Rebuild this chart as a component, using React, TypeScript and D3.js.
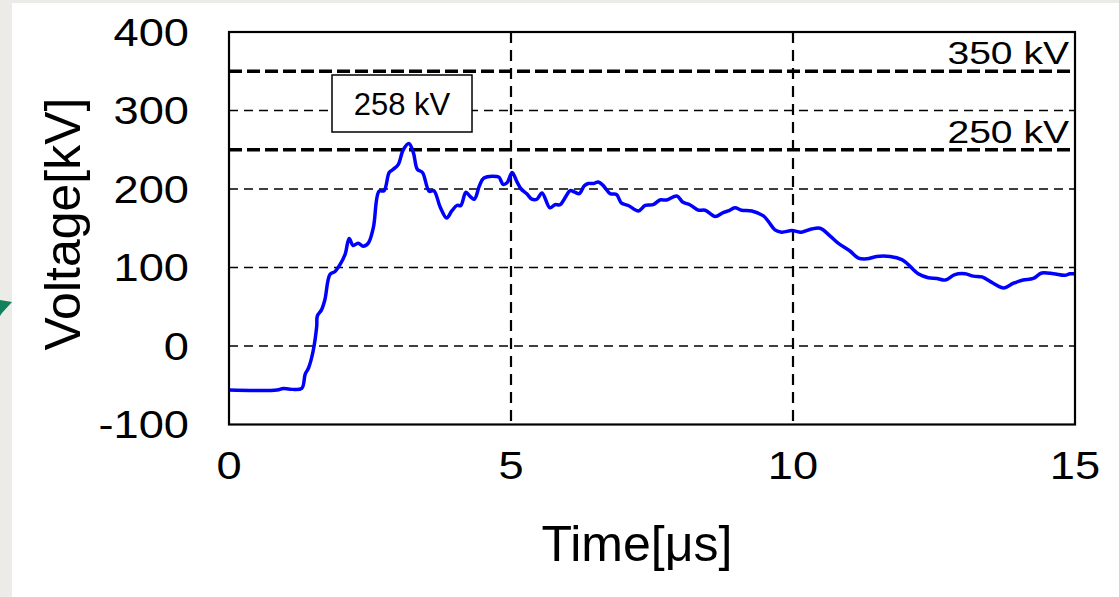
import React from 'react';
import { line, scaleLinear, curveCatmullRom } from 'd3';

// waveform samples: time [µs] and voltage [kV]
const timeUs = [
	0, 0.85, 0.96, 1.08, 1.29, 1.35, 1.41, 1.49, 1.555, 1.566, 1.64, 1.7, 1.79, 1.88, 1.97, 2.06, 2.13, 2.2, 2.29, 2.38,
	2.47, 2.56, 2.66, 2.75, 2.84, 2.91, 3.0, 3.09, 3.19, 3.27, 3.34, 3.43, 3.55, 3.63, 3.75, 3.86, 3.95, 4.04, 4.11, 4.2,
	4.27, 4.35, 4.44, 4.52, 4.75, 4.79, 4.86, 4.93, 5.02, 5.1, 5.18, 5.28, 5.37, 5.46, 5.55, 5.69, 5.78, 5.87, 5.96, 6.05,
	6.13, 6.21, 6.3, 6.37, 6.46, 6.55, 6.64, 6.76, 6.87, 6.96, 7.08, 7.26, 7.38, 7.52, 7.64, 7.76, 7.94, 8.05, 8.17, 8.32,
	8.44, 8.62, 8.76, 8.85, 8.97, 9.09, 9.27, 9.47, 9.56, 9.68, 9.8, 9.98, 10.15, 10.33, 10.48, 10.66, 10.8, 11.01, 11.16, 11.31,
	11.48, 11.72, 11.93, 12.04, 12.22, 12.4, 12.55, 12.7, 12.87, 13.05, 13.2, 13.35, 13.55, 13.74, 13.91, 14.08, 14.26, 14.41, 14.62, 14.82,
	14.91, 15.0
];
const voltageKv = [
	-56, -56, -54, -55, -54, -36, -28, -7, 25, 38, 46, 59, 91, 95, 104, 117, 137, 128, 131, 127,
	131, 151, 197, 198, 221, 225, 231, 250, 258, 246, 225, 221, 197, 198, 176, 163, 172, 179, 179, 196,
	191, 187, 204, 214, 216, 215, 206, 208, 221, 210, 200, 194, 187, 187, 195, 176, 180, 180, 189, 198,
	196, 194, 204, 207, 207, 209, 204, 194, 193, 182, 179, 172, 179, 180, 186, 186, 191, 183, 180, 173,
	173, 165, 170, 172, 176, 173, 172, 166, 159, 148, 145, 147, 145, 149, 150, 140, 131, 121, 112, 111,
	114, 114, 110, 104, 92, 87, 86, 84, 91, 92, 89, 88, 80, 74, 80, 84, 86, 93, 92, 90,
	92, 92
];

const xTicks = [0, 5, 10, 15];
const yTicks = [-100, 0, 100, 200, 300, 400];
const xGrid = [5, 10];
const yGrid = [0, 100, 200, 300];
const limitLines = [350, 250];
const limitLabels = ['350 kV', '250 kV'];
const peakLabel = '258 kV';

const W = 1119;
const H = 597;
const plot = { left: 229, right: 1075, top: 32, bottom: 424.5 };
const FONT = 'Liberation Sans, Arial, sans-serif';

export default function App() {
	const x = scaleLinear().domain([0, 15]).range([plot.left, plot.right]);
	const y = scaleLinear().domain([-100, 400]).range([plot.bottom, plot.top]);

	const data = timeUs.map((t, i) => ({ t, v: voltageKv[i] }));
	const path = line<{ t: number; v: number }>()
		.curve(curveCatmullRom.alpha(0.5))
		.x(d => x(d.t))
		.y(d => y(d.v))(data);

	return (
		<div style={{ position: 'fixed', left: 0, top: 0, width: W, height: H }}>
			<svg width={W} height={H} style={{ display: 'block' }} fontFamily={FONT}>
				<rect x={0} y={0} width={W} height={H} fill="#ffffff" />
				<rect x={0} y={0} width={W} height={3} fill="#ecebe7" />
				<rect x={0} y={0} width={12} height={H} fill="#ecebe7" />
				<polygon points="0,300 12,302 2,313 0,316" fill="#12805a" />

				{/* grid */}
				{yGrid.map(v => (
					<line key={'gy' + v} x1={plot.left} x2={plot.right} y1={y(v)} y2={y(v)}
						stroke="#000" strokeWidth={1.7} strokeDasharray="9,6" />
				))}
				{xGrid.map(t => (
					<line key={'gx' + t} x1={x(t)} x2={x(t)} y1={plot.top} y2={plot.bottom}
						stroke="#000" strokeWidth={2.2} strokeDasharray="11,7" />
				))}
				{limitLines.map(v => (
					<line key={'lim' + v} x1={plot.left} x2={plot.right} y1={y(v)} y2={y(v)}
						stroke="#000" strokeWidth={3.5} strokeDasharray="13,5" />
				))}

				{/* waveform */}
				<path d={path ?? ''} fill="none" stroke="#0000ff" strokeWidth={3.5} strokeLinejoin="round" />

				{/* frame */}
				<rect x={plot.left} y={plot.top} width={plot.right - plot.left} height={plot.bottom - plot.top}
					fill="none" stroke="#000" strokeWidth={2.2} />

				{/* limit labels */}
				{limitLines.map((v, i) => (
					<text key={'ll' + v} transform={`translate(${plot.right - 6},${y(v) - 7}) scale(1.26,1)`}
						textAnchor="end" fontSize={31} fill="#000">{limitLabels[i]}</text>
				))}

				{/* peak annotation */}
				<rect x={332} y={75} width={140} height={57} fill="#fff" stroke="#000" strokeWidth={1.5} />
				<text x={402} y={115} textAnchor="middle" fontSize={31} fill="#000">{peakLabel}</text>

				{/* axis labels */}
				{yTicks.map(v => (
					<text key={'yt' + v} transform={`translate(189,${y(v) + 13.5}) scale(1.19,1)`}
						textAnchor="end" fontSize={38} fill="#000">{v}</text>
				))}
				{xTicks.map(t => (
					<text key={'xt' + t} transform={`translate(${x(t)},479) scale(1.19,1)`}
						textAnchor="middle" fontSize={38} fill="#000">{t}</text>
				))}

				<text x={637} y={561} textAnchor="middle" fontSize={50} fill="#000">Time[μs]</text>
				<text transform="translate(80,224) rotate(-90)" textAnchor="middle" fontSize={50} fill="#000">Voltage[kV]</text>
			</svg>
		</div>
	);
}
